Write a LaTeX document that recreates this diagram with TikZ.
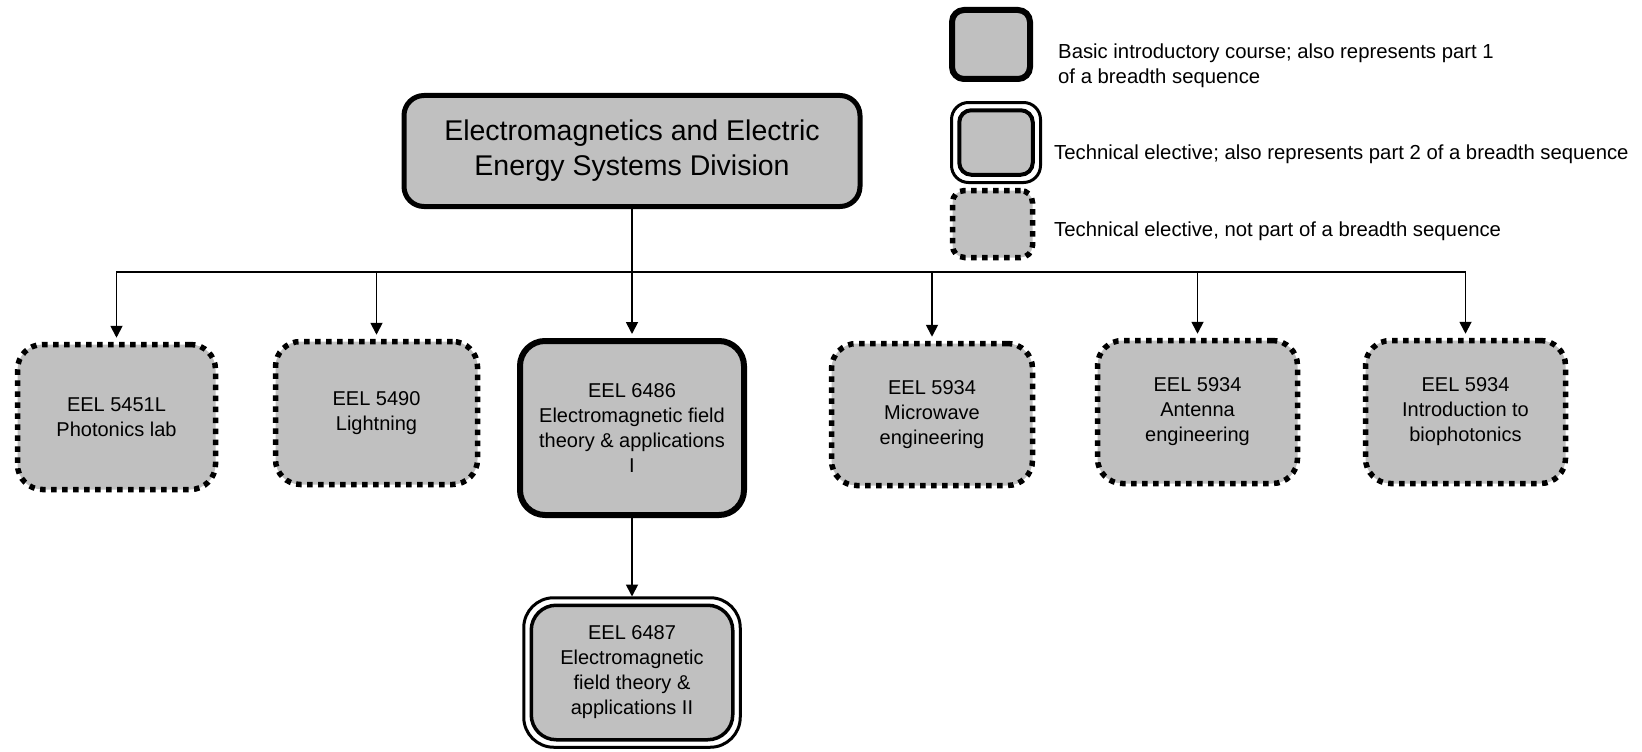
\documentclass[tikz,border=0pt]{standalone}
\usepackage{fontspec}
\setmainfont{Liberation Sans}
\usetikzlibrary{arrows.meta,calc}
\definecolor{boxgray}{RGB}{192,192,192}
\begin{document}
\begin{tikzpicture}[x=1pt,y=-1pt,
  course/.style={rectangle, rounded corners=25pt, fill=boxgray, align=center,
    font=\fontsize{20}{25}\selectfont, inner sep=0pt},
  basicbox/.style={course, draw=black, line width=6pt},
  electbox/.style={course, draw=black, line width=5.5pt, dash pattern=on 5.5pt off 5.5pt},
  seqbox/.style={course, draw=black, line width=3.5pt},
  outerline/.style={draw=black, line width=3pt},
  legtext/.style={anchor=west, inner sep=0pt, align=left, font=\fontsize{20.3}{24.5}\selectfont},
  arr/.style={line width=2pt, -{Triangle[length=12pt,width=12pt]}},
  busline/.style={line width=1.8pt}
]
\useasboundingbox (0,0) rectangle (1642,752);

% title
\node[course, draw=black, line width=5pt, rounded corners=20pt,
  minimum width=456pt, minimum height=111pt,
  font=\fontsize{28.5}{35}\selectfont] (top) at (632,151)
  {Electromagnetics and Electric\\Energy Systems Division};

% courses
\node[electbox, minimum width=198pt, minimum height=145pt] (n1) at (116.5,417) {EEL 5451L\\Photonics lab};
\node[electbox, minimum width=202pt, minimum height=143pt] (n2) at (376.5,413) {EEL 5490\\Lightning};
\node[basicbox, minimum width=224pt, minimum height=174pt] (n3) at (632,428) {EEL 6486\\Electromagnetic field\\theory \& applications\\I};
\node[electbox, minimum width=201pt, minimum height=142pt] (n4) at (932,414.5) {EEL 5934\\Microwave\\engineering};
\node[electbox, minimum width=200pt, minimum height=143pt] (n5) at (1197.5,412) {EEL 5934\\Antenna\\engineering};
\node[electbox, minimum width=200pt, minimum height=143pt] (n6) at (1465.5,412) {EEL 5934\\Introduction to\\biophotonics};
\node[seqbox, minimum width=201.5pt, minimum height=134.5pt] (n7) at (632,672.5) {EEL 6487\\Electromagnetic\\field theory \&\\applications II};
\draw[outerline, rounded corners=30pt] ($(n7.north west)+(-5.75,-5.75)$) rectangle ($(n7.south east)+(5.75,5.75)$);

% legend
\node[basicbox, rounded corners=12pt, minimum width=78pt, minimum height=69pt] (l1) at (991,44.5) {};
\node[seqbox, line width=4pt, rounded corners=12pt, minimum width=73.5pt, minimum height=64.5pt] (l2) at (996,142.5) {};
\draw[outerline, rounded corners=17pt] ($(l2.north west)+(-5.75,-5.75)$) rectangle ($(l2.south east)+(5.75,5.75)$);
\node[electbox, rounded corners=12pt, minimum width=80pt, minimum height=67pt] (l3) at (992.5,224) {};

\node[legtext] (t1) at (1058,66) {Basic introductory course; also represents part 1\\of a breadth sequence};
\node[legtext] (t2) at (1054,154) {Technical elective; also represents part 2 of a breadth sequence};
\node[legtext] (t3) at (1054,231) {Technical elective, not part of a breadth sequence};

% connectors
\coordinate (bus) at (632,272);
\draw[busline] (top.south) -- (bus);
\draw[arr, busline, shorten >=4pt] (bus) -| (n1.north);
\draw[arr, busline, shorten >=4pt] (bus) -| (n2.north);
\draw[arr, busline, shorten >=4pt] (bus) -- (n3.north);
\draw[arr, busline, shorten >=4pt] (bus) -| (n4.north);
\draw[arr, busline, shorten >=4pt] (bus) -| (n5.north);
\draw[arr, busline, shorten >=4pt] (bus) -| (n6.north);
\draw[arr, busline, shorten >=7pt] (n3.south) -- (n7.north);
\end{tikzpicture}
\end{document}
